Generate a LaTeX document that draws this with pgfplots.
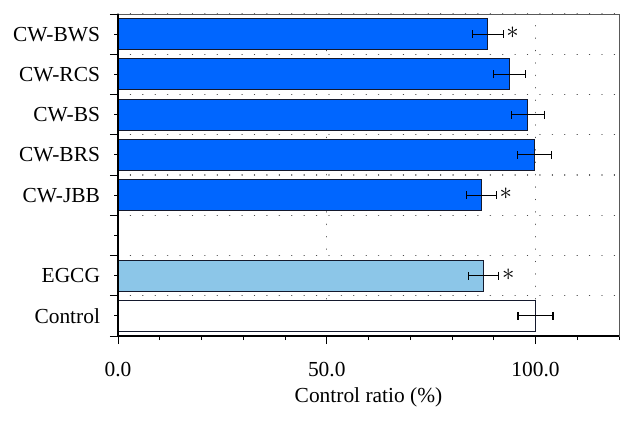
\documentclass[border=0pt]{standalone}
\usepackage{pgfplots}
\pgfplotsset{compat=1.18}
\usepackage{fontspec}
\setmainfont{Liberation Serif}
\definecolor{barblue}{RGB}{0,102,255}
\definecolor{lightblue}{RGB}{140,198,232}
\definecolor{edge}{RGB}{20,25,45}
\begin{document}
\begin{tikzpicture}
\useasboundingbox (-118bp,-85bp) rectangle (516bp,336bp);
\begin{axis}[
  at={(0,0)}, anchor=south west,
  scale only axis, width=501bp, height=322bp,
  xmin=0, xmax=120, ymin=-0.5, ymax=7.5,
  axis line style={gray!70!black, line width=0.6pt},
  xtick={0,50,100},
  xticklabels={0.0,50.0,100.0},
  minor xtick={10,20,30,40,60,70,80,90,110,120},
  ytick={-0.5,0.5,...,7.5},
  yticklabels={},
  extra y ticks={0,1,2,3,4,5,6,7},
  extra y tick labels={Control,EGCG,,CW-JBB,CW-BRS,CW-BS,CW-RCS,CW-BWS},
  extra y tick style={major tick length=3.5bp, grid=none, tick style={black, line width=0.9pt}},
  tick align=outside,
  tick pos=left,
  major tick length=8bp, minor tick length=4bp,
  tick style={black, line width=0.9pt},
  ymajorgrids, xmajorgrids,
  major grid style={gray!60!black, line width=1.4pt, dash pattern=on 0.01pt off 12.4bp, line cap=round},
  tick label style={font=\fontsize{21.5}{24}\selectfont},
  xticklabel style={yshift=-15bp},
  yticklabel style={xshift=-11bp},
  xlabel={Control ratio (\%)},
  xlabel style={font=\fontsize{21.5}{24}\selectfont, yshift=-4bp},
  /pgf/number format/assume math mode=true,
  clip=false,
]
% CW samples
\addplot[xbar, bar width=31bp, fill=barblue, draw=edge, line width=1pt,
  error bars/.cd, x dir=both, x explicit,
  error bar style={black, line width=1.1pt}, error mark options={rotate=90, mark size=4bp, line width=1.1pt}]
coordinates {
  (87.0,3) -= (3.6,0) += (3.6,0)
  (99.8,4) -= (4.1,0) += (4.1,0)
  (98.2,5) -= (4.0,0) += (4.0,0)
  (93.8,6) -= (3.8,0) += (3.8,0)
  (88.6,7) -= (3.7,0) += (3.7,0)
};
% EGCG
\addplot[xbar, bar width=31bp, fill=lightblue, draw=edge, line width=1pt,
  error bars/.cd, x dir=both, x explicit,
  error bar style={black, line width=1.1pt}, error mark options={rotate=90, mark size=4bp, line width=1.1pt}]
coordinates {
  (87.6,1) -= (3.6,0) += (3.6,0)
};
% Control
\addplot[xbar, bar width=31bp, fill=white, draw=edge, line width=1pt,
  error bars/.cd, x dir=both, x explicit,
  error bar style={black, line width=1.1pt}, error mark options={rotate=90, mark size=4bp, line width=1.1pt}]
coordinates {
  (100,0) -= (4.2,0) += (4.2,0)
};
% significance asterisks
\addplot[draw=none, mark=none, nodes near coords={$\ast$},
  every node near coord/.append style={anchor=center, font=\fontsize{28}{28}\selectfont, inner sep=0pt, yshift=1bp}]
coordinates {(94.5,7) (92.9,3) (93.5,1)};
\end{axis}
\draw[black, line width=1.6pt] (0,322bp) -- (0,0) -- (501bp,0);
\end{tikzpicture}
\end{document}
